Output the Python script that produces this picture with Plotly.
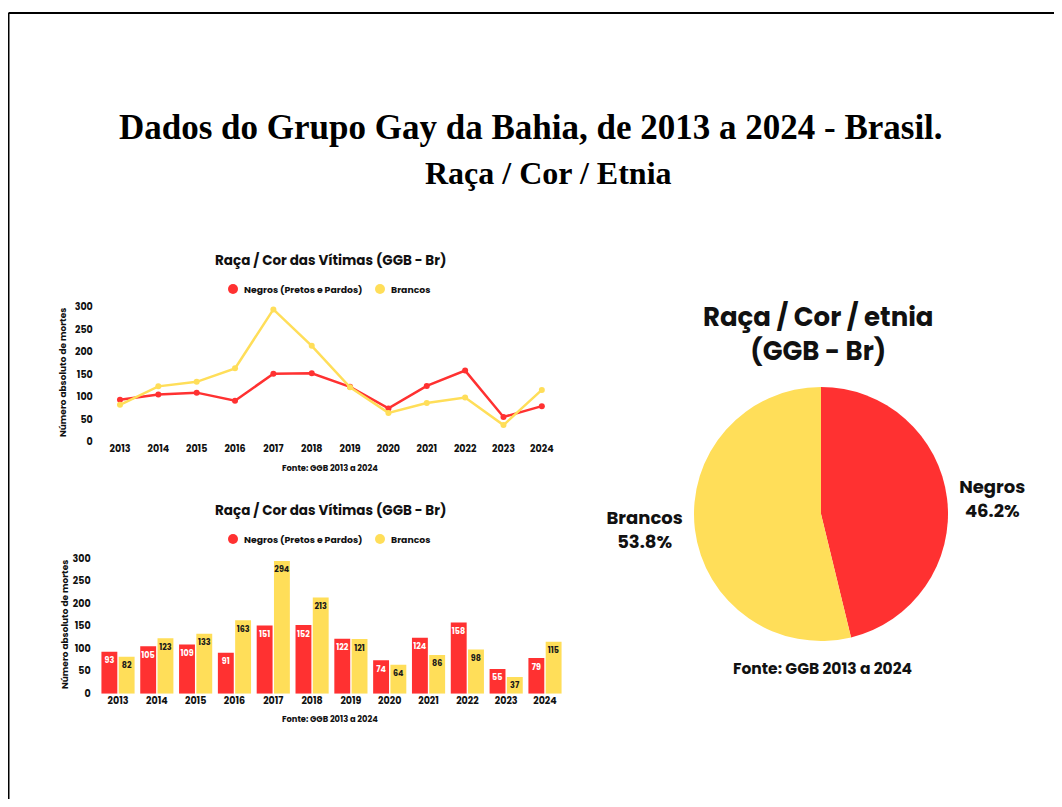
import plotly.graph_objects as go

# ---------------- data ----------------
years = ["2013", "2014", "2015", "2016", "2017", "2018", "2019", "2020", "2021", "2022", "2023", "2024"]
negros = [93, 105, 109, 91, 151, 152, 122, 74, 124, 158, 55, 79]
brancos = [82, 123, 133, 163, 294, 213, 121, 64, 86, 98, 37, 115]
y_ticks = [0, 50, 100, 150, 200, 250, 300]
series_names = ["Negros (Pretos e Pardos)", "Brancos"]
pie_labels = ["Negros", "Brancos"]
pie_values = [sum(negros), sum(brancos)]

# ---------------- style ----------------
# The figure autosizes to the page (8px body margin): paper is ~1046 x 791,
# positioned at (8, 8) in the 1062 x 807 window.
OFF = 8
W, H = 1046, 791
RED = "#FF3131"
YEL = "#FFDE59"
POP = "Poppins, Inter, Roboto, sans-serif"
SERIF = "Liberation Serif, Times New Roman, serif"


def px(x):
    return (x - OFF) / W


def py(y):
    return 1 - (y - OFF) / H


fig = go.Figure()

# ---- line chart ----
for vals, nm, c in [(negros, series_names[0], RED), (brancos, series_names[1], YEL)]:
    fig.add_trace(go.Scatter(x=years, y=vals, mode="lines+markers", name=nm,
                             line=dict(color=c, width=2.5), marker=dict(color=c, size=6),
                             showlegend=False, xaxis="x", yaxis="y", cliponaxis=False))

# ---- bar chart ----
fig.add_trace(go.Bar(x=years, y=negros, name=series_names[0], marker=dict(color=RED, line=dict(width=0)),
                     text=negros, textposition="inside", insidetextanchor="end", textangle=0,
                     textfont=dict(color="white", size=8.5, family=POP, weight="bold"),
                     showlegend=False, xaxis="x2", yaxis="y2"))
fig.add_trace(go.Bar(x=years, y=brancos, name=series_names[1], marker=dict(color=YEL, line=dict(width=0)),
                     text=brancos, textposition="inside", insidetextanchor="end", textangle=0,
                     textfont=dict(color="#1a1a1a", size=8.5, family=POP, weight="bold"),
                     showlegend=False, xaxis="x2", yaxis="y2"))

# ---- pie ----
cx, cy, r = 821, 514, 127
fig.add_trace(go.Pie(labels=pie_labels, values=pie_values, sort=False, direction="clockwise",
                     marker=dict(colors=[RED, YEL], line=dict(width=0)),
                     textposition="outside", texttemplate="%{label}<br>%{percent:.1%}",
                     textfont=dict(family=POP, size=18, color="#111", weight="bold"),
                     showlegend=False, hoverinfo="label+percent",
                     domain=dict(x=[px(cx - 224), px(cx + 224)], y=[py(cy + r), py(cy - r)])))

tickfont = dict(family=POP, size=9.5, color="#111", weight="bold")
axis_common = dict(showgrid=False, zeroline=False, showline=False, ticks="", tickfont=tickfont,
                   automargin=False)

fig.update_layout(
    autosize=True,
    margin=dict(l=0, r=0, t=0, b=0, autoexpand=False),
    paper_bgcolor="white", plot_bgcolor="white",
    bargap=0.11, bargroupgap=0.08,
    uniformtext=dict(minsize=8, mode="show"),
    showlegend=False,
    xaxis=dict(domain=[px(100.8), px(561)], type="category", range=[-0.5, len(years) - 0.5], **axis_common),
    yaxis=dict(domain=[py(441.7), py(306.7)], range=[0, 300], tickvals=y_ticks, ticklabelstandoff=7,
               **axis_common),
    xaxis2=dict(domain=[px(98.6), px(564.4)], type="category", anchor="y2", **axis_common),
    yaxis2=dict(domain=[py(693.7), py(558.3)], range=[0, 300], tickvals=y_ticks, anchor="x2",
                ticklabelstandoff=7, **axis_common),
)

ann = []


def text(x, y, s, size, family=POP, angle=0, color="#111", xanchor="center"):
    ann.append(dict(x=px(x), y=py(y), xref="paper", yref="paper", text=s, showarrow=False,
                    xanchor=xanchor, yanchor="middle", textangle=angle,
                    font=dict(family=family, size=size, color=color, weight="bold")))


text(531, 127, "Dados do Grupo Gay da Bahia, de 2013 a 2024 - Brasil.", 35, SERIF, color="#000")
text(548, 173, "Raça / Cor / Etnia", 32, SERIF, color="#000")

# small-chart titles, axis titles, sources
for title_y, axis_x, axis_y, src_y in [(260, 63, 373, 468), (510, 65, 625, 719)]:
    text(330, title_y, "Raça / Cor das Vítimas (GGB - Br)", 13.5)
    text(axis_x, axis_y, "Número absoluto de mortes", 9, angle=-90)
    text(330, src_y, "Fonte: GGB 2013 a 2024", 8.3)

# legends (circle markers + labels)
shapes = []
for ly in [289, 539]:
    for lx, nm, c in [(233, series_names[0], RED), (380, series_names[1], YEL)]:
        shapes.append(dict(type="circle", xref="paper", yref="paper",
                           x0=px(lx - 5), x1=px(lx + 5), y0=py(ly + 5), y1=py(ly - 5),
                           fillcolor=c, line=dict(width=0)))
        text(lx + 9, ly, nm, 9.3, xanchor="left")

text(818, 334, "Raça / Cor / etnia<br>(GGB - Br)", 26)
text(822, 668, "Fonte: GGB 2013 a 2024", 15.5)

# page border (top and left edges visible)
shapes.append(dict(type="line", xref="paper", yref="paper", x0=px(8.5), x1=1.02, y0=py(13), y1=py(13),
                   line=dict(color="black", width=2)))
shapes.append(dict(type="line", xref="paper", yref="paper", x0=px(8.5), x1=px(8.5), y0=py(13), y1=-0.05,
                   line=dict(color="black", width=2)))

fig.update_layout(annotations=ann, shapes=shapes)

fig.write_html("out.html")
